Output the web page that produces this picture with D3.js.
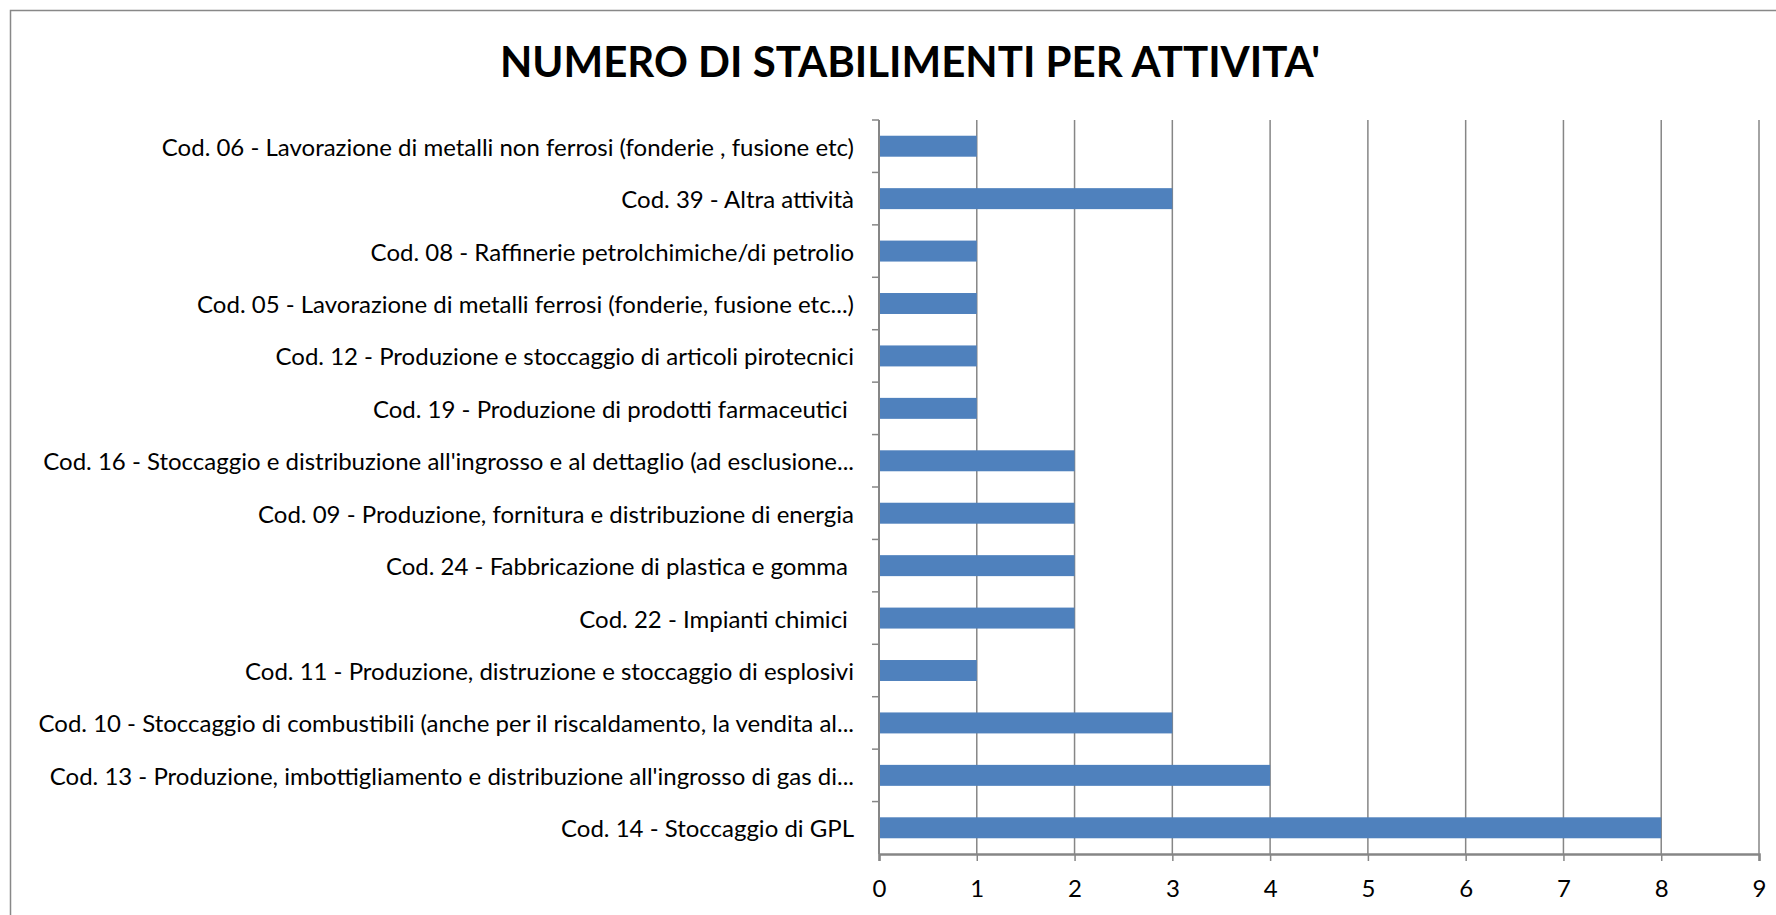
<!DOCTYPE html>
<html>
<head>
<meta charset="utf-8">
<script src="https://cdn.jsdelivr.net/npm/d3@7"></script>
<style>
  body { margin: 0; background: #fff; }
  svg { display: block; }
</style>
</head>
<body>
<div id="chart"></div>
<script>
// categories top to bottom, as in the reference
const categories = [
    "Cod. 06 - Lavorazione di metalli non ferrosi (fonderie , fusione etc)",
    "Cod. 39 - Altra attività",
    "Cod. 08 - Raffinerie petrolchimiche/di petrolio",
    "Cod. 05 - Lavorazione di metalli ferrosi (fonderie, fusione etc...)",
    "Cod. 12 - Produzione e stoccaggio di articoli pirotecnici",
    "Cod. 19 - Produzione di prodotti farmaceutici ",
    "Cod. 16 - Stoccaggio e distribuzione all'ingrosso e al dettaglio (ad esclusione...",
    "Cod. 09 - Produzione, fornitura e distribuzione di energia",
    "Cod. 24 - Fabbricazione di plastica e gomma ",
    "Cod. 22 - Impianti chimici ",
    "Cod. 11 - Produzione, distruzione e stoccaggio di esplosivi",
    "Cod. 10 - Stoccaggio di combustibili (anche per il riscaldamento, la vendita al...",
    "Cod. 13 - Produzione, imbottigliamento e distribuzione all'ingrosso di gas di...",
    "Cod. 14 - Stoccaggio di GPL"
];
const values = [1, 3, 1, 1, 1, 1, 2, 2, 2, 2, 1, 3, 4, 8];
const xTicks = [0, 1, 2, 3, 4, 5, 6, 7, 8, 9];
const title = "NUMERO DI STABILIMENTI PER ATTIVITA'";

const W = 1776, H = 915;
const margin = { top: 120, right: 17, bottom: 61, left: 879 };
const width = W - margin.left - margin.right;
const height = H - margin.top - margin.bottom;
const font = "Lato, 'Open Sans', sans-serif";
const gridColor = "#868686";
const barColor = "#4F81BD";

const svg = d3.select("#chart")
    .append("svg")
    .attr("width", W)
    .attr("height", H);

// chart area border (right/bottom run off the page)
svg.append("rect")
    .attr("x", 10.5).attr("y", 10.5)
    .attr("width", W + 20).attr("height", H + 20)
    .attr("fill", "#fff")
    .attr("stroke", "#888")
    .attr("stroke-width", 1.5);

svg.append("text")
    .attr("x", 910)
    .attr("y", 61)
    .attr("text-anchor", "middle")
    .attr("dominant-baseline", "central")
    .style("font-family", font)
    .style("font-weight", "bold")
    .style("font-size", "42px")
    .attr("fill", "#000")
    .text(title);

const g = svg.append("g")
    .attr("transform", `translate(${margin.left}, ${margin.top})`);

const xScale = d3.scaleLinear()
    .domain([0, 9])
    .range([0, width]);

const yScale = d3.scaleBand()
    .domain(categories)
    .range([0, height])
    .paddingInner(0.6)
    .paddingOuter(0.3);

// full band scale for category tick marks
const yBand = d3.scaleBand().domain(categories).range([0, height]);

// grid
g.append("g")
    .attr("class", "grid")
    .selectAll("line")
    .data(xTicks.slice(1))
    .enter()
    .append("line")
    .attr("x1", d => xScale(d))
    .attr("x2", d => xScale(d))
    .attr("y1", 0)
    .attr("y2", height)
    .attr("stroke", gridColor)
    .attr("stroke-width", 1.5);

// bars
g.append("g")
    .attr("class", "bars")
    .selectAll("rect")
    .data(values)
    .enter()
    .append("rect")
    .attr("x", xScale(0))
    .attr("y", (d, i) => yScale(categories[i]))
    .attr("width", d => xScale(d) - xScale(0))
    .attr("height", yScale.bandwidth())
    .attr("fill", barColor);

// x axis
const xAxis = g.append("g")
    .attr("transform", `translate(0, ${height})`)
    .call(d3.axisBottom(xScale).tickValues(xTicks).tickSize(7).tickPadding(19).tickFormat(d3.format("d")));
xAxis.select(".domain").attr("stroke", gridColor).attr("stroke-width", 2.5);
xAxis.selectAll(".tick line").attr("stroke", gridColor).attr("stroke-width", 1.5);
xAxis.selectAll("text")
    .style("font-family", font)
    .style("font-size", "24px")
    .attr("fill", "#000");

// y axis: line plus tick marks on band boundaries
const yAxis = g.append("g");
yAxis.append("line")
    .attr("x1", 0).attr("x2", 0)
    .attr("y1", 0).attr("y2", height)
    .attr("stroke", gridColor)
    .attr("stroke-width", 2);
yAxis.selectAll(".ytick")
    .data(categories)
    .enter()
    .append("line")
    .attr("class", "ytick")
    .attr("x1", -7).attr("x2", 0)
    .attr("y1", d => yBand(d))
    .attr("y2", d => yBand(d))
    .attr("stroke", gridColor)
    .attr("stroke-width", 1.5);

// category labels
g.append("g")
    .selectAll("text")
    .data(categories)
    .enter()
    .append("text")
    .attr("x", -25)
    .attr("y", d => yBand(d) + yBand.bandwidth() / 2)
    .attr("text-anchor", "end")
    .attr("dominant-baseline", "central")
    .style("font-family", font)
    .style("font-size", "24px")
    .style("white-space", "pre")
    .attr("fill", "#000")
    .text(d => d);
</script>
</body>
</html>
